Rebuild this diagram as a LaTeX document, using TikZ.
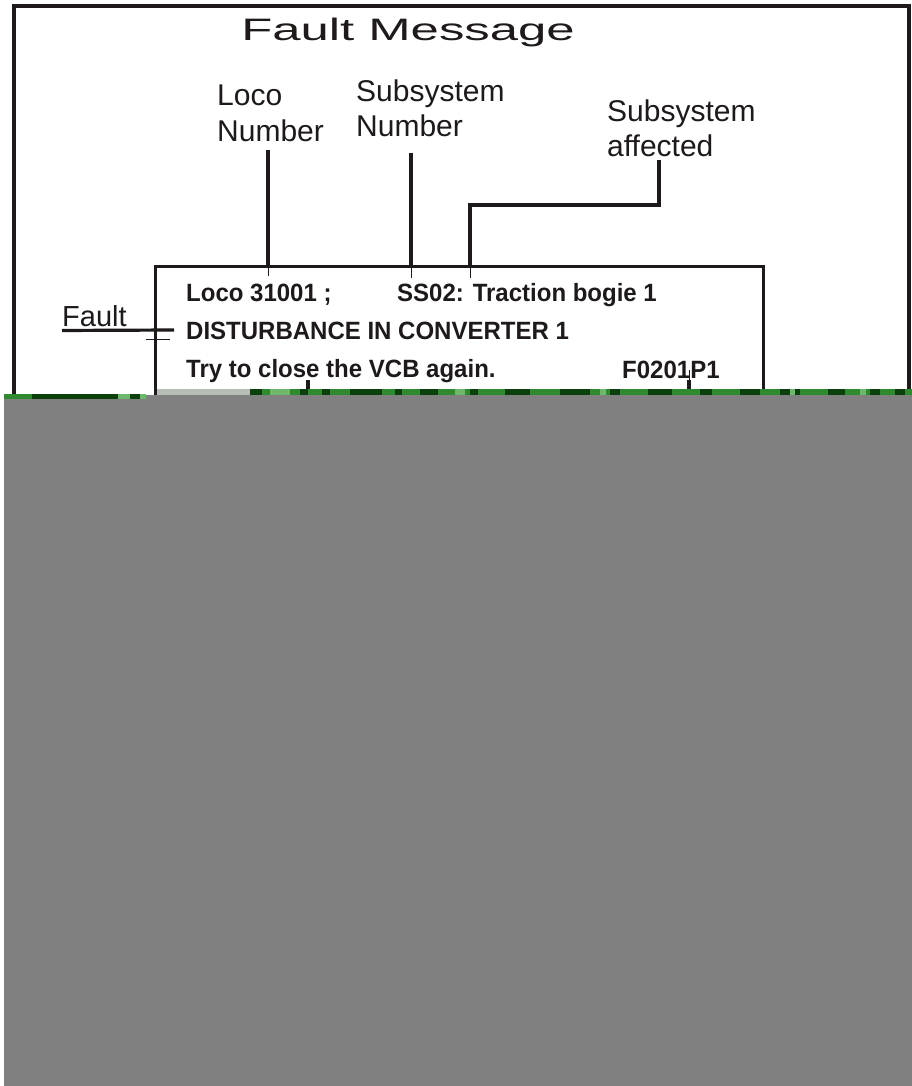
\documentclass[tikz,border=0pt]{standalone}
\usepackage{fontspec}
\setmainfont{Liberation Sans}
\newfontfamily\titlefont{Liberation Sans}[FakeStretch=1.64]
\newfontfamily\boxfont{Liberation Sans}[FakeStretch=0.96]
\definecolor{ink}{HTML}{1E1A1A}
\definecolor{grayfill}{HTML}{808080}
\definecolor{gdark}{HTML}{0B3F0B}
\definecolor{gmid}{HTML}{2F8A2F}
\definecolor{glight}{HTML}{6DB86D}
\definecolor{gpale}{HTML}{B8BDB8}
\begin{document}
\begin{tikzpicture}[x=1pt,y=-1pt,
  lbl/.style={font=\fontsize{30}{36}\selectfont, inner sep=0, anchor=base west, text=ink},
  msg/.style={font=\boxfont\bfseries\fontsize{25}{30}\selectfont, inner sep=0, anchor=base west, text=ink},
  lead/.style={draw=ink, line width=3.2pt},
  hair/.style={draw=ink, line width=1pt}]
\useasboundingbox (0,0) rectangle (912,1086);
\fill[white] (0,0) rectangle (912,1086);

% outer frame
\draw[ink, line width=4pt] (14,430) -- (14,6) -- (909,6) -- (909,430);

% title and labels
\node[font=\titlefont\fontsize{31}{36}\selectfont, inner sep=0, anchor=base, text=ink] (title) at (408,41) {Fault Message};
\node[lbl] (locoA) at (217,106) {Loco};
\node[lbl] (locoB) at (217,142) {Number};
\node[lbl] (subA) at (356,102) {Subsystem};
\node[lbl] (subB) at (356,137) {Number};
\node[lbl] (affA) at (607,122) {Subsystem};
\node[lbl] (affB) at (607,157) {affected};
\node[font=\fontsize{29}{34}\selectfont, inner sep=0, anchor=base west, text=ink] (fault) at (62,326) {Fault};

% message box
\node[draw=ink, line width=3pt, outer sep=0, inner sep=0, minimum width=608pt, minimum height=200pt, anchor=north west] (msgbox) at (155,266) {};
\node[msg] (l1a) at (186,301) {Loco 31001 ;};
\node[msg] (l1b) at (397,301) {SS02: Traction bogie 1};
\node[msg] (l2) at (186,339) {DISTURBANCE IN CONVERTER 1};
\node[msg] (l3a) at (186,377) {Try to close the VCB again.};
\node[msg] (l3b) at (622,378) {F0201P1};

% connector points
\coordinate (pLoco) at (268,276);
\coordinate (pSub) at (411,278);
\coordinate (pAff) at (470,278);
\coordinate (bendA) at (659,205);
\coordinate (pFault) at (174,330);
\coordinate (pClose) at (308,420);
\coordinate (pCode) at (689,420);

% connectors
\draw[lead] ([yshift=-8pt]locoB.south -| pLoco) -- (msgbox.north -| pLoco);
\draw[hair] (msgbox.north -| pLoco) -- (pLoco);
\draw[lead] ([yshift=-16pt]subB.south -| pSub) -- (msgbox.north -| pSub);
\draw[hair] (msgbox.north -| pSub) -- (pSub);
\draw[lead] ([yshift=-3pt]affB.south -| bendA) -- (bendA) -| (msgbox.north -| pAff);
\draw[hair] (msgbox.north -| pAff) -- (pAff);
\draw[lead] ([yshift=-4pt]fault.south west) -- (pFault);
\draw[hair] (146,339) -- (170,339);
\draw[lead] ([yshift=-3pt]l3a.base -| pClose) -- (pClose);
\draw[hair] ([yshift=8pt]l3b.base -| pCode) -- ([yshift=-2pt]l3b.base -| pCode);
\draw[lead] ([yshift=-2pt]l3b.base -| pCode) -- (pCode);

% damaged lower part of the image
\fill[grayfill] (4,395) rectangle (912,1086);
\fill[gmid] (4,394) rectangle (32,399);
\fill[gdark] (32,394) rectangle (118,399);
\fill[glight] (118,394) rectangle (130,399);
\fill[gdark] (130,394) rectangle (140,399);
\fill[glight] (140,394) rectangle (146,399);
\fill[gpale] (157,389) rectangle (250,395);
\fill[gmid] (250,389) rectangle (912,395);
\foreach \a/\b in {250/262,300/308,322/330,350/382,395/402,420/438,470/478,505/530,560/590,610/620,648/672,700/712,740/760,780/800,828/845,870/880,895/905}
  \fill[gdark] (\a,389) rectangle (\b,395);
\foreach \a/\b in {270/290,455/465,600/606,790/795,860/866}
  \fill[glight] (\a,389) rectangle (\b,395);
\end{tikzpicture}
\end{document}
